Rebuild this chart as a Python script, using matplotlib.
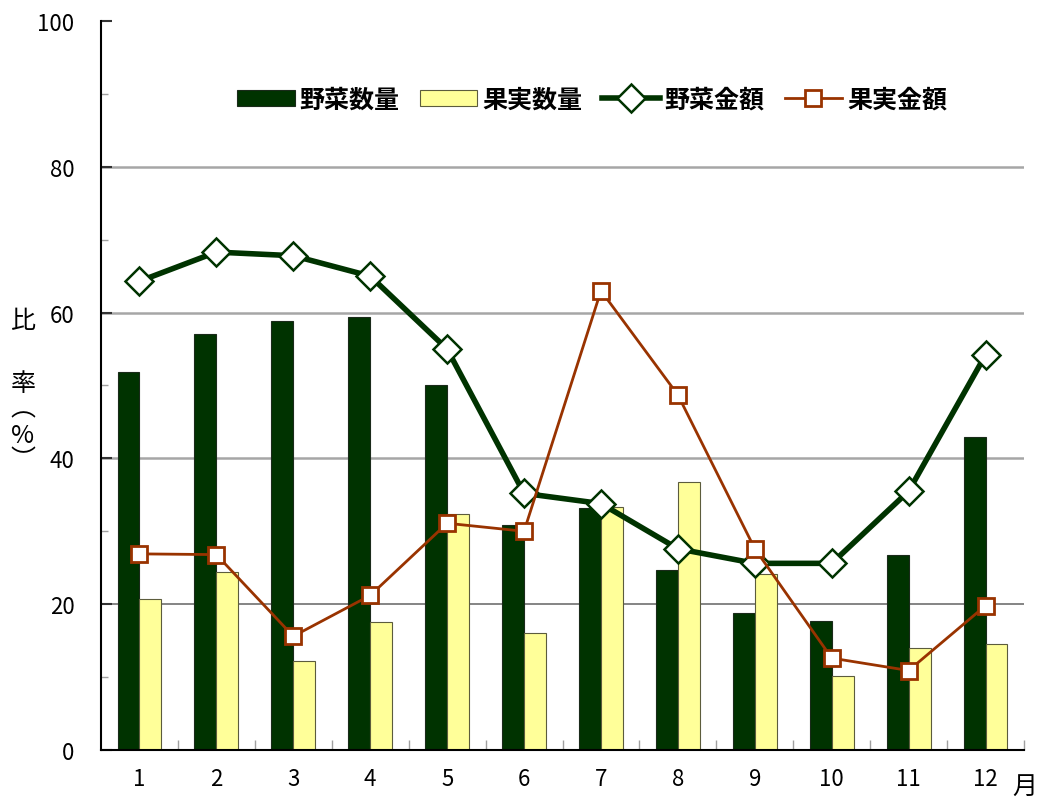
import matplotlib.pyplot as plt
import numpy as np

plt.rcParams['font.family'] = ['Noto Sans CJK JP', 'DejaVu Sans']

months = ['1', '2', '3', '4', '5', '6', '7', '8', '9', '10', '11', '12']
veg_qty = [51.8, 57.1, 58.9, 59.4, 50.0, 30.8, 33.2, 24.7, 18.8, 17.7, 26.7, 43.0]
fruit_qty = [20.7, 24.4, 12.2, 17.5, 32.4, 16.1, 33.3, 36.7, 24.1, 10.2, 14.0, 14.6]
veg_amt = [64.3, 68.3, 67.8, 65.0, 55.0, 35.2, 33.8, 27.6, 25.6, 25.6, 35.5, 54.2]
fruit_amt = [26.9, 26.8, 15.6, 21.2, 31.1, 30.0, 63.0, 48.7, 27.6, 12.6, 10.9, 19.8]

x = np.arange(len(months))
w = 0.285

fig = plt.figure(figsize=(10.41, 8.03), dpi=100)
ax = fig.add_axes([0.097, 0.0648, 0.8867, 0.9078])

# 横線
for v in [40, 60, 80]:
    ax.axhline(v, color='#a6a6a6', lw=1.8, zorder=0)
ax.axhline(20, color='#707070', lw=1.2, zorder=0)

b1 = ax.bar(x - w / 2, veg_qty, w, color='#003300', edgecolor='#1a2a1a', lw=0.8,
            label='野菜数量', zorder=2)
b2 = ax.bar(x + w / 2, fruit_qty, w, color='#ffff99', edgecolor='#5c5c3d', lw=0.8,
            label='果実数量', zorder=2)
l1, = ax.plot(x, veg_amt, color='#003300', lw=4, marker='D', ms=14, mfc='white',
              mec='#003300', mew=1.8, label='野菜金額', zorder=3)
l2, = ax.plot(x, fruit_amt, color='#993300', lw=2, marker='s', ms=12, mfc='white',
              mec='#993300', mew=2, label='果実金額', zorder=4)

ax.set_xlim(-0.5, 11.5)
ax.set_ylim(0, 100)
ax.set_yticks(range(0, 101, 20))
ax.set_yticks(range(10, 100, 20), minor=True)
ax.set_xticks(x)
ax.set_xticklabels(months)
ax.set_xticks(np.arange(0.5, 11.6, 1), minor=True)

ax.tick_params(axis='y', which='major', direction='in', length=8, width=1.5,
               labelsize=16, pad=19, color='#333333')
ax.tick_params(axis='y', which='minor', direction='in', length=5, width=1,
               color='#a0a0a0')
ax.tick_params(axis='x', which='major', length=0, labelsize=16, pad=12)
ax.tick_params(axis='x', which='minor', direction='in', length=7, width=1,
               color='#a0a0a0')

for s in ['top', 'right']:
    ax.spines[s].set_visible(False)
for s in ['left', 'bottom']:
    ax.spines[s].set_linewidth(1.5)

# 縦書きの軸ラベル
for ch, yy in [('比', 0.600), ('率', 0.522), ('︵', 0.49), ('%', 0.457), ('︶', 0.427)]:
    fig.text(0.022, yy, ch, fontsize=18, ha='center', va='center')
fig.text(0.984, 0.02, '月', fontsize=18, ha='center', va='center')

ax.legend([b1, b2, l1, l2], ['野菜数量', '果実数量', '野菜金額', '果実金額'],
          loc='center', bbox_to_anchor=(0.532, 0.892), ncol=4, frameon=False,
          prop={'size': 18, 'weight': 'bold'}, handlelength=2.3, handleheight=0.6,
          columnspacing=0.8, handletextpad=0.2)

plt.savefig('out.png')
